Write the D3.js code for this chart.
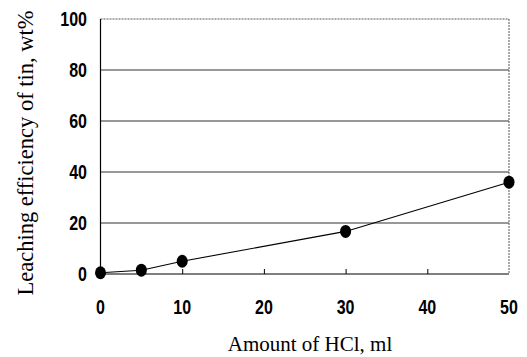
<!DOCTYPE html>
<html>
<head>
<meta charset="utf-8">
<script src="https://cdn.jsdelivr.net/npm/d3@7"></script>
<style>
  html, body { margin: 0; padding: 0; background: #fff; }
  svg { display: block; }
  .tick-lbl { font-family: "Liberation Sans", Arial, sans-serif; font-weight: 700; font-size: 20px; fill: #000; }
  .ax-title { font-family: "Liberation Serif", "Times New Roman", serif; font-size: 21px; fill: #000; }
</style>
</head>
<body>
<div id="chart"></div>
<script>
// HCl amount (ml) vs leaching efficiency of tin (wt%)
const hclMl = [0, 5, 10, 30, 50];
const leachPct = [0.5, 1.5, 5, 16.7, 36];
const xTicks = [0, 10, 20, 30, 40, 50];
const yTicks = [0, 20, 40, 60, 80, 100];

const W = 527, H = 357;
const m = { left: 100.5, right: 18, top: 19, bottom: 83 };
const squeeze = 0.8; // the original tick font is a narrow bold face

const svg = d3.select('#chart').append('svg')
  .attr('width', W).attr('height', H);

const x = d3.scaleLinear().domain([0, 50]).range([m.left, W - m.right]);
const y = d3.scaleLinear().domain([0, 100]).range([H - m.bottom, m.top]);

// horizontal grid (20..80 solid), top edge dotted
svg.append('g')
  .selectAll('line')
  .data(yTicks.filter((d) => d > 0 && d < 100))
  .join('line')
  .attr('x1', x(0)).attr('x2', x(50))
  .attr('y1', (d) => y(d)).attr('y2', (d) => y(d))
  .attr('stroke', '#333').attr('stroke-width', 1.2);

svg.append('line')
  .attr('x1', x(0)).attr('x2', x(50))
  .attr('y1', y(100)).attr('y2', y(100))
  .attr('stroke', '#555').attr('stroke-width', 1).attr('stroke-dasharray', '2,1');
svg.append('line')
  .attr('x1', x(50)).attr('x2', x(50))
  .attr('y1', y(100)).attr('y2', y(0))
  .attr('stroke', '#555').attr('stroke-width', 1).attr('stroke-dasharray', '2,1');

// x axis with inward ticks
const xAxis = svg.append('g')
  .attr('transform', `translate(0,${y(0)})`)
  .call(d3.axisTop(x).tickValues(xTicks.slice(1, -1)).tickSize(5).tickFormat(''));
xAxis.select('.domain').remove();
xAxis.selectAll('line').attr('stroke', '#000');
svg.append('line')
  .attr('x1', x(0)).attr('x2', x(50))
  .attr('y1', y(0)).attr('y2', y(0))
  .attr('stroke', '#000').attr('stroke-width', 1.2);

// y axis line
svg.append('line')
  .attr('x1', x(0)).attr('x2', x(0))
  .attr('y1', y(100)).attr('y2', y(0))
  .attr('stroke', '#000').attr('stroke-width', 1.2);

// tick labels
svg.append('g')
  .selectAll('text')
  .data(yTicks)
  .join('text')
  .attr('class', 'tick-lbl')
  .attr('transform', (d) => `translate(87,${y(d)}) scale(${squeeze},1)`)
  .attr('dy', '0.36em')
  .attr('text-anchor', 'end')
  .text((d) => d);

svg.append('g')
  .selectAll('text')
  .data(xTicks)
  .join('text')
  .attr('class', 'tick-lbl')
  .attr('transform', (d) => `translate(${x(d)},314) scale(${squeeze},1)`)
  .attr('text-anchor', 'middle')
  .text((d) => d);

// series line + markers
const line = d3.line().x((d) => x(d[0])).y((d) => y(d[1]));
const pts = hclMl.map((v, i) => [v, leachPct[i]]);
svg.append('path')
  .datum(pts)
  .attr('d', line)
  .attr('fill', 'none')
  .attr('stroke', '#000')
  .attr('stroke-width', 1.1);

svg.append('g')
  .selectAll('ellipse')
  .data(pts)
  .join('ellipse')
  .attr('cx', (d) => x(d[0]))
  .attr('cy', (d) => y(d[1]))
  .attr('rx', 5.5).attr('ry', 6.5)
  .attr('fill', '#000');

// axis titles
svg.append('text')
  .attr('class', 'ax-title')
  .attr('x', 310)
  .attr('y', 351)
  .attr('text-anchor', 'middle')
  .text('Amount of HCl, ml');

svg.append('text')
  .attr('class', 'ax-title')
  .attr('transform', 'translate(33,153) rotate(-90)')
  .attr('text-anchor', 'middle')
  .style('font-size', '22.5px')
  .text('Leaching efficiency of tin, wt%');
</script>
</body>
</html>
